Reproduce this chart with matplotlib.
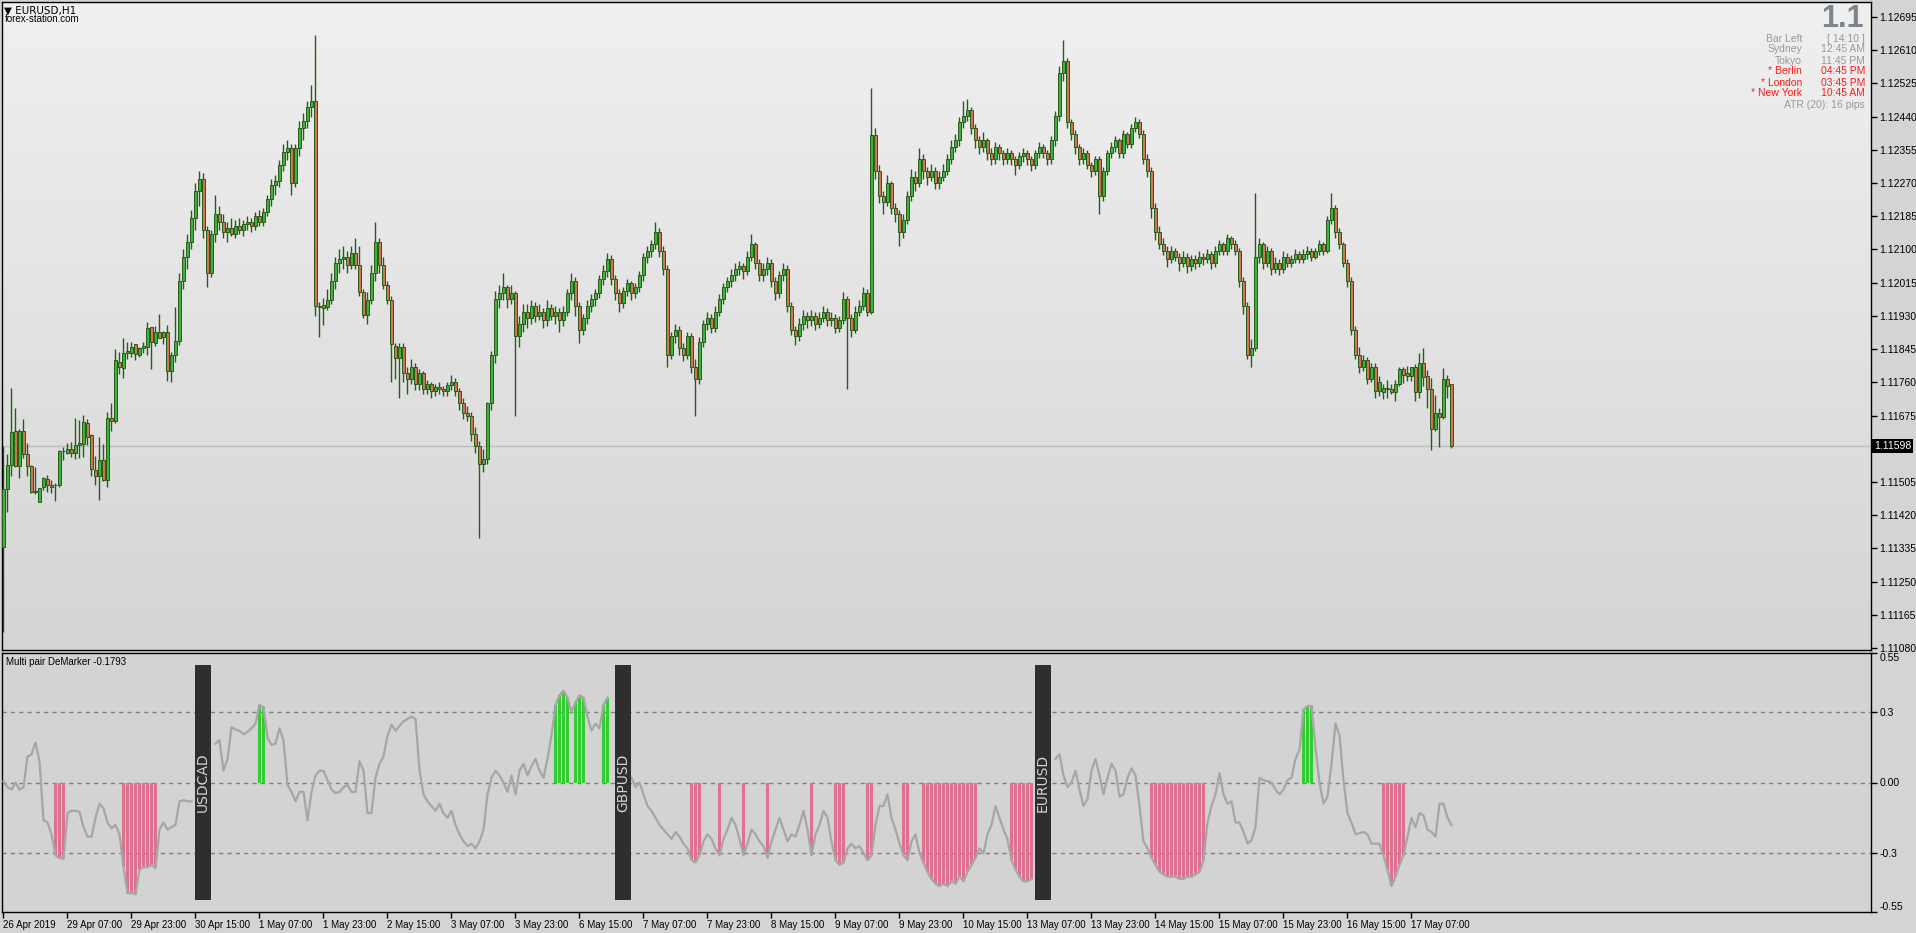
"""EURUSD H1 candles with the Multi pair DeMarker window below."""

from pathlib import Path

import matplotlib
matplotlib.use("Agg")
import matplotlib.pyplot as plt
import matplotlib.transforms as mtransforms
from matplotlib.colors import LinearSegmentedColormap
import numpy as np

W, H = 1916, 933
BASE = 1.11  # candle values are pips above this price
nan = float("nan")

open_pips = [
    33.9, 48.7, 54.8, 63.5, 54.5, 63.5, 57.6, 54.7, 48.0, 45.3,
    49.2, 51.2, 49.7, 49.6, 49.6, 58.3, 58.0, 58.9, 57.8, 60.0,
    60.3, 65.5, 62.4, 53.5, 51.9, 56.1, 51.0, 66.8, 66.0, 81.3,
    79.7, 83.4, 83.6, 85.7, 83.0, 84.7, 85.1, 90.1, 86.1, 88.8,
    87.7, 88.8, 79.0, 82.9, 86.5, 102.0, 108.0, 112.0, 118.0, 125.0,
    128.0, 115.0, 104.0, 114.0, 119.0, 117.0, 114.5, 115.5, 114.0, 116.0,
    115.0, 116.5, 117.0, 116.0, 118.5, 117.0, 119.5, 123.0, 126.5, 127.5,
    131.5, 135.0, 136.0, 127.0, 136.0, 141.0, 143.0, 146.5, 148.0, 95.5,
    95.8, 95.2, 97.1, 102.0, 106.6, 107.5, 108.2, 106.0, 109.0, 106.0,
    99.0, 93.2, 97.1, 104.0, 112.0, 106.0, 101.0, 97.0, 85.4, 82.2,
    85.1, 78.4, 76.9, 80.0, 75.6, 78.4, 74.4, 75.6, 73.7, 74.7,
    74.4, 73.7, 75.3, 76.2, 73.7, 70.6, 68.1, 67.5, 62.8, 59.7,
    55.0, 56.5, 70.6, 83.1, 97.2, 98.8, 100.3, 97.2, 98.8, 87.8,
    91.0, 94.1, 92.5, 95.6, 93.1, 94.1, 91.9, 95.0, 93.1, 94.1,
    91.9, 94.1, 98.8, 101.9, 95.6, 89.4, 92.5, 95.6, 97.2, 98.8,
    102.5, 104.4, 107.5, 102.5, 98.8, 96.3, 99.4, 101.3, 98.8, 100.3,
    103.4, 108.2, 109.7, 111.3, 114.4, 109.7, 105.0, 83.1, 87.8, 89.4,
    84.7, 83.1, 87.8, 80.0, 76.9, 86.3, 91.0, 92.5, 90.0, 94.1,
    97.2, 100.3, 101.9, 103.4, 105.0, 105.7, 104.4, 108.2, 111.3, 106.6,
    103.4, 105.0, 106.6, 101.9, 98.8, 103.4, 105.0, 95.6, 89.4, 87.8,
    91.0, 93.1, 91.9, 93.1, 91.0, 92.5, 94.1, 91.9, 92.5, 90.0,
    91.9, 97.2, 92.5, 89.4, 94.1, 95.6, 98.8, 94.1, 139.2, 130.1,
    123.8, 122.2, 126.9, 120.7, 119.1, 114.4, 117.6, 123.8, 128.5, 126.9,
    133.2, 130.1, 128.5, 130.1, 126.9, 128.5, 130.1, 133.2, 136.3, 137.9,
    142.6, 144.2, 145.7, 141.0, 137.9, 136.3, 137.9, 134.7, 133.2, 136.3,
    134.7, 133.2, 134.7, 133.2, 131.6, 133.8, 134.7, 133.2, 131.6, 134.7,
    136.3, 134.7, 133.2, 137.9, 144.2, 155.1, 158.2, 142.6, 139.5, 136.3,
    133.2, 134.7, 131.6, 130.1, 133.2, 123.8, 130.1, 134.7, 136.3, 137.9,
    134.7, 139.5, 137.0, 141.0, 142.6, 139.5, 133.2, 130.1, 120.7, 114.4,
    111.3, 109.7, 107.5, 109.7, 108.2, 106.6, 108.2, 105.7, 107.5, 106.6,
    108.2, 107.5, 108.8, 106.6, 109.7, 111.3, 109.7, 112.9, 111.3, 109.7,
    101.9, 95.6, 83.1, 84.7, 108.2, 111.3, 106.6, 109.7, 105.0, 106.6,
    105.0, 108.2, 106.6, 107.5, 108.8, 107.5, 108.8, 109.7, 108.2, 109.7,
    111.3, 109.7, 117.6, 120.7, 114.4, 111.3, 106.6, 101.9, 89.4, 83.1,
    80.0, 81.6, 76.9, 80.0, 73.7, 73.6, 74.4, 74.2, 73.6, 75.5,
    79.3, 78.4, 77.7, 79.9, 73.6, 80.9, 77.5, 74.2, 64.0, 68.1,
    67.2, 76.8, 75.5,
]

high_pips = [
    59.7, 57.7, 74.5, 69.4, 64.0, 66.6, 60.4, 54.8, 54.3, 49.0,
    51.7, 52.3, 51.0, 50.2, 58.8, 59.5, 60.4, 60.7, 66.9, 66.3,
    67.6, 66.6, 62.7, 57.2, 62.0, 60.2, 68.3, 70.6, 84.5, 83.8,
    87.4, 86.3, 86.2, 85.7, 85.1, 86.3, 91.4, 90.1, 90.4, 93.5,
    89.2, 90.7, 83.7, 95.3, 104.0, 110.0, 114.0, 120.0, 127.0, 130.0,
    129.5, 116.0, 115.0, 124.0, 121.0, 119.0, 117.0, 118.0, 117.5, 118.0,
    117.5, 118.5, 118.0, 119.5, 120.0, 120.5, 124.0, 128.0, 129.0, 133.0,
    137.0, 138.0, 137.0, 137.0, 143.0, 145.0, 148.0, 152.0, 165.0, 96.5,
    97.5, 100.0, 104.0, 108.0, 110.0, 111.0, 109.5, 111.0, 113.0, 111.0,
    100.0, 99.0, 106.0, 117.0, 113.0, 108.0, 102.0, 98.0, 86.0, 86.0,
    86.0, 80.0, 82.0, 81.0, 79.5, 79.0, 76.5, 76.0, 75.5, 76.0,
    75.0, 76.0, 78.0, 77.0, 74.5, 72.0, 70.0, 68.5, 64.5, 61.0,
    59.0, 71.0, 84.0, 99.5, 101.0, 104.0, 101.0, 101.0, 99.5, 93.0,
    96.0, 96.0, 97.0, 96.5, 96.0, 95.0, 97.0, 96.0, 95.5, 95.0,
    95.5, 100.0, 104.0, 103.0, 96.5, 93.5, 97.0, 98.5, 100.0, 103.5,
    106.0, 109.0, 108.5, 103.5, 100.0, 100.5, 102.5, 102.0, 101.5, 104.5,
    109.0, 111.0, 112.5, 117.0, 115.5, 111.0, 106.0, 89.0, 91.0, 90.5,
    86.0, 89.0, 88.5, 82.0, 87.5, 92.0, 94.0, 93.5, 95.5, 98.5,
    101.5, 103.0, 105.0, 106.5, 107.0, 106.5, 109.5, 114.0, 112.0, 107.5,
    106.5, 108.0, 107.5, 103.0, 104.5, 106.5, 106.0, 96.5, 90.5, 92.5,
    94.5, 94.0, 94.5, 94.0, 94.0, 95.5, 95.0, 94.0, 93.5, 93.0,
    99.0, 98.0, 93.5, 95.5, 97.0, 100.5, 100.0, 151.4, 141.0, 131.5,
    125.0, 129.0, 127.5, 122.0, 120.0, 119.0, 125.0, 130.5, 130.0, 136.0,
    134.5, 131.0, 132.0, 131.0, 130.0, 132.0, 134.5, 138.0, 139.5, 144.0,
    148.0, 148.5, 146.5, 142.0, 139.0, 140.0, 138.5, 136.0, 137.5, 137.0,
    135.5, 136.0, 135.5, 134.0, 135.0, 136.0, 135.5, 134.0, 135.5, 137.5,
    137.0, 135.5, 139.0, 145.5, 157.0, 163.6, 159.0, 143.5, 140.5, 137.0,
    136.0, 135.5, 132.5, 134.0, 134.0, 131.0, 135.5, 137.5, 139.0, 138.5,
    140.5, 140.0, 142.0, 144.0, 143.5, 140.5, 134.5, 131.0, 122.0, 116.0,
    113.0, 111.0, 111.0, 110.5, 109.0, 109.5, 109.0, 108.5, 108.5, 109.5,
    109.0, 110.0, 109.5, 111.0, 112.5, 112.0, 114.0, 113.5, 112.5, 110.5,
    103.0, 96.5, 87.0, 124.4, 113.0, 112.0, 111.0, 110.5, 108.0, 107.5,
    109.5, 109.0, 108.5, 110.0, 109.5, 110.0, 111.0, 110.5, 110.5, 112.5,
    112.0, 118.5, 124.4, 121.5, 115.5, 112.0, 107.5, 103.0, 90.5, 85.0,
    83.0, 82.5, 81.0, 81.0, 77.5, 75.6, 76.6, 75.5, 76.6, 79.8,
    79.9, 80.2, 79.9, 80.7, 83.5, 84.8, 79.2, 77.1, 72.8, 69.4,
    79.7, 77.9, 75.5,
]

low_pips = [
    12.0, 42.9, 52.1, 54.2, 51.6, 56.7, 51.9, 47.8, 47.3, 45.3,
    48.5, 48.0, 47.8, 45.5, 49.3, 56.1, 57.7, 56.8, 56.5, 56.6,
    57.0, 59.9, 51.9, 49.7, 46.0, 50.8, 49.3, 63.6, 65.7, 78.1,
    77.2, 82.0, 82.6, 81.7, 82.4, 83.6, 83.0, 79.4, 85.4, 87.4,
    85.8, 76.4, 76.2, 81.2, 85.5, 100.0, 105.0, 110.0, 115.0, 121.0,
    113.0, 100.5, 103.0, 112.0, 115.0, 113.0, 112.0, 113.5, 113.0, 114.0,
    113.5, 115.0, 114.5, 115.0, 116.0, 116.0, 118.5, 121.0, 124.0, 126.0,
    130.0, 133.0, 124.0, 126.0, 134.0, 138.0, 141.0, 144.0, 93.0, 87.5,
    90.7, 94.5, 96.0, 100.0, 104.0, 105.0, 104.0, 105.0, 105.0, 98.0,
    92.5, 91.0, 96.0, 102.0, 104.0, 100.0, 96.0, 76.2, 76.8, 72.1,
    76.0, 73.0, 75.5, 74.0, 74.0, 73.0, 73.0, 72.0, 72.5, 73.0,
    72.5, 72.5, 74.0, 72.5, 69.0, 66.5, 66.0, 61.0, 58.0, 36.2,
    53.0, 55.0, 69.0, 81.0, 95.0, 97.0, 95.0, 96.0, 67.5, 85.0,
    89.0, 90.0, 91.0, 91.5, 92.0, 90.0, 90.5, 92.0, 91.0, 89.0,
    90.5, 93.0, 97.0, 93.0, 86.0, 88.0, 91.0, 94.0, 95.5, 97.5,
    101.0, 103.0, 101.0, 97.0, 94.0, 95.0, 98.0, 97.0, 97.5, 99.0,
    102.0, 106.5, 108.0, 110.0, 108.0, 103.5, 80.0, 82.0, 86.0, 83.0,
    81.5, 82.0, 78.5, 67.5, 75.5, 85.0, 89.5, 88.5, 89.0, 93.0,
    96.0, 99.0, 100.5, 102.0, 103.5, 102.5, 103.5, 107.0, 105.0, 102.0,
    102.0, 103.5, 100.5, 97.0, 97.5, 102.0, 94.0, 88.0, 85.5, 86.5,
    89.5, 90.0, 90.5, 89.5, 90.0, 91.5, 90.5, 90.5, 88.5, 89.0,
    91.0, 74.4, 87.5, 88.5, 93.0, 94.5, 93.0, 93.5, 128.0, 122.0,
    119.0, 121.0, 119.0, 117.0, 111.0, 113.0, 116.5, 122.5, 125.0, 126.0,
    128.0, 126.5, 127.5, 125.5, 125.5, 127.5, 129.0, 132.0, 135.0, 136.5,
    141.0, 143.0, 139.5, 136.0, 134.5, 135.0, 133.0, 131.5, 132.0, 133.0,
    131.5, 132.0, 131.5, 129.0, 130.5, 132.5, 131.5, 130.0, 130.5, 133.5,
    133.5, 131.5, 132.0, 136.5, 143.0, 153.0, 141.0, 138.0, 134.5, 131.5,
    132.0, 130.5, 128.5, 129.0, 119.0, 122.5, 129.0, 133.5, 135.0, 133.5,
    133.5, 136.0, 136.0, 140.0, 138.5, 132.0, 128.5, 118.0, 112.5, 110.0,
    108.5, 105.5, 106.5, 107.0, 104.5, 105.5, 104.0, 104.5, 105.0, 105.5,
    106.0, 106.5, 105.0, 105.5, 108.5, 108.5, 108.5, 110.0, 108.5, 100.5,
    93.5, 82.0, 80.0, 84.0, 106.5, 105.0, 105.5, 103.5, 104.0, 103.5,
    104.0, 105.5, 105.5, 106.5, 106.5, 106.5, 107.5, 107.0, 107.5, 108.5,
    108.5, 109.0, 116.5, 113.0, 110.0, 105.5, 100.5, 88.0, 82.0, 78.5,
    79.0, 75.5, 76.0, 72.0, 72.5, 71.8, 72.0, 73.0, 71.1, 75.1,
    75.9, 76.4, 76.4, 71.1, 72.1, 75.1, 69.3, 58.8, 63.6, 59.4,
    66.7, 72.1, 59.3,
]

close_pips = [
    48.7, 54.8, 63.2, 54.7, 63.5, 57.6, 54.7, 47.9, 48.0, 48.9,
    51.5, 49.8, 49.3, 49.7, 58.4, 58.3, 58.9, 58.0, 60.0, 60.4,
    65.8, 62.1, 53.7, 51.9, 56.1, 51.0, 66.8, 66.2, 81.6, 80.0,
    83.4, 84.0, 85.0, 83.2, 84.7, 85.3, 89.8, 86.4, 88.8, 87.4,
    89.0, 79.0, 82.9, 86.5, 102.0, 108.0, 112.0, 118.0, 125.0, 128.0,
    115.0, 104.0, 114.0, 119.0, 117.0, 114.5, 115.5, 114.0, 116.0, 115.0,
    116.5, 117.0, 116.0, 118.5, 117.0, 119.5, 123.0, 126.5, 127.5, 131.5,
    135.0, 136.0, 127.0, 136.0, 141.0, 143.0, 146.5, 148.0, 95.5, 95.3,
    95.0, 97.1, 102.0, 106.6, 107.5, 108.2, 106.0, 109.0, 106.0, 99.0,
    93.2, 97.1, 104.0, 112.0, 106.0, 101.0, 97.0, 85.7, 82.2, 85.1,
    78.4, 76.9, 80.0, 75.6, 78.4, 74.4, 75.6, 73.7, 74.7, 74.4,
    73.7, 75.3, 76.2, 73.7, 70.6, 68.1, 67.5, 62.8, 59.7, 55.0,
    56.5, 70.6, 83.1, 97.2, 98.8, 100.3, 97.2, 98.8, 87.8, 91.0,
    94.1, 92.5, 95.6, 93.1, 94.1, 91.9, 95.0, 93.1, 94.1, 91.9,
    94.1, 98.8, 101.9, 95.6, 89.4, 92.5, 95.6, 97.2, 98.8, 102.5,
    104.4, 107.5, 102.5, 98.8, 96.3, 99.4, 101.3, 98.8, 100.3, 103.4,
    108.2, 109.7, 111.3, 114.4, 109.7, 105.0, 83.1, 87.8, 89.4, 84.7,
    83.1, 87.8, 80.0, 76.9, 86.3, 91.0, 92.5, 90.0, 94.1, 97.2,
    100.3, 101.9, 103.4, 105.0, 105.7, 104.4, 108.2, 111.3, 106.6, 103.4,
    105.0, 106.6, 101.9, 98.8, 103.4, 105.0, 95.6, 89.4, 87.8, 91.0,
    93.1, 91.9, 93.1, 91.0, 92.5, 94.1, 91.9, 92.5, 90.0, 91.9,
    97.2, 92.5, 89.4, 94.1, 95.6, 98.8, 94.1, 139.2, 130.1, 123.8,
    122.2, 126.9, 120.7, 119.1, 114.4, 117.6, 123.8, 128.5, 126.9, 133.2,
    130.1, 128.5, 130.1, 126.9, 128.5, 130.1, 133.2, 136.3, 137.9, 142.6,
    144.2, 145.7, 141.0, 137.9, 136.3, 137.9, 134.7, 133.2, 136.3, 134.7,
    133.2, 134.7, 133.2, 131.6, 133.8, 134.7, 133.2, 131.6, 134.7, 136.3,
    134.7, 133.2, 137.9, 144.2, 155.1, 158.2, 142.6, 139.5, 136.3, 133.2,
    134.7, 131.6, 130.1, 133.2, 123.8, 130.1, 134.7, 136.3, 137.9, 134.7,
    139.5, 137.0, 141.0, 142.6, 139.5, 133.2, 130.1, 120.7, 114.4, 111.3,
    109.7, 107.5, 109.7, 108.2, 106.6, 108.2, 105.7, 107.5, 106.6, 108.2,
    107.5, 108.8, 106.6, 109.7, 111.3, 109.7, 112.9, 111.3, 109.7, 101.9,
    95.6, 83.1, 84.7, 108.2, 111.3, 106.6, 109.7, 105.0, 106.6, 105.0,
    108.2, 106.6, 107.5, 108.8, 107.5, 108.8, 109.7, 108.2, 109.7, 111.3,
    109.7, 117.6, 120.7, 114.4, 111.3, 106.6, 101.9, 89.4, 83.1, 80.0,
    81.6, 76.9, 80.0, 73.7, 76.2, 74.5, 74.3, 73.6, 75.5, 79.4,
    78.0, 77.7, 79.9, 73.6, 80.9, 77.3, 74.3, 64.0, 68.1, 67.2,
    76.8, 75.1, 59.8,
]

# Multi pair DeMarker line, nan where the pair labels break it
demarker = [
    0.005, -0.02, -0.03, 0.0, -0.03, -0.02, 0.11, 0.12, 0.17, 0.09,
    -0.16, -0.17, -0.22, -0.31, -0.32, -0.325, -0.13, -0.12, -0.12, -0.125,
    -0.19, -0.23, -0.23, -0.15, -0.09, -0.11, -0.17, -0.195, -0.18, -0.22,
    -0.36, -0.47, -0.47, -0.475, -0.37, -0.36, -0.36, -0.35, -0.365, -0.2,
    -0.17, -0.2, -0.19, -0.18, -0.08, -0.075, -0.08, -0.08, nan, nan,
    nan, nan, nan, 0.165, 0.18, 0.05, 0.1, 0.235, 0.225, 0.22,
    0.205, 0.215, 0.23, 0.25, 0.33, 0.32, 0.19, 0.16, 0.165, 0.23,
    0.18, -0.01, -0.04, -0.08, -0.04, -0.04, -0.16, -0.04, 0.03, 0.05,
    0.05, 0.01, -0.03, -0.045, -0.04, -0.02, -0.01, -0.04, -0.04, 0.09,
    0.05, -0.13, -0.13, 0.02, 0.08, 0.11, 0.2, 0.245, 0.22, 0.24,
    0.26, 0.27, 0.28, 0.27, 0.05, -0.05, -0.08, -0.1, -0.12, -0.09,
    -0.13, -0.15, -0.12, -0.18, -0.22, -0.25, -0.27, -0.26, -0.28, -0.25,
    -0.2, -0.05, 0.02, 0.05, 0.03, 0.0, -0.04, 0.03, -0.05, 0.05,
    0.08, 0.03, 0.07, 0.1, 0.05, 0.02, 0.1, 0.2, 0.33, 0.37,
    0.39, 0.36, 0.3, 0.34, 0.37, 0.36, 0.28, 0.22, 0.25, 0.23,
    0.33, 0.36, nan, nan, nan, nan, nan, 0.02, -0.02, 0.0,
    -0.05, -0.1, -0.12, -0.15, -0.18, -0.2, -0.22, -0.24, -0.21, -0.23,
    -0.26, -0.28, -0.33, -0.34, -0.31, -0.25, -0.22, -0.24, -0.28, -0.31,
    -0.24, -0.2, -0.15, -0.18, -0.24, -0.31, -0.26, -0.2, -0.22, -0.25,
    -0.27, -0.32, -0.25, -0.2, -0.15, -0.2, -0.25, -0.22, -0.23, -0.18,
    -0.12, -0.2, -0.31, -0.22, -0.18, -0.12, -0.15, -0.25, -0.33, -0.35,
    -0.34, -0.28, -0.26, -0.28, -0.27, -0.3, -0.33, -0.31, -0.18, -0.1,
    -0.1, -0.05, -0.15, -0.2, -0.26, -0.31, -0.33, -0.25, -0.22, -0.3,
    -0.34, -0.38, -0.41, -0.43, -0.44, -0.43, -0.44, -0.42, -0.43, -0.4,
    -0.42, -0.38, -0.35, -0.32, -0.28, -0.3, -0.22, -0.18, -0.1, -0.15,
    -0.2, -0.24, -0.33, -0.37, -0.4, -0.42, -0.42, -0.41, nan, nan,
    nan, nan, nan, 0.1, 0.12, 0.03, -0.02, 0.0, 0.05, -0.03,
    -0.1, -0.07, 0.05, 0.1, 0.03, -0.05, 0.02, 0.08, 0.05, -0.06,
    -0.05, 0.02, 0.06, 0.03, -0.1, -0.25, -0.28, -0.32, -0.35, -0.38,
    -0.39, -0.4, -0.4, -0.4, -0.41, -0.41, -0.4, -0.4, -0.39, -0.38,
    -0.33, -0.17, -0.1, -0.05, 0.04, -0.05, -0.09, -0.08, -0.17, -0.17,
    -0.21, -0.26, -0.245, -0.19, 0.02, 0.01, 0.005, 0.0, -0.03, -0.05,
    -0.03, 0.01, 0.02, 0.1, 0.14, 0.31, 0.325, 0.325, 0.15, 0.0,
    -0.09, -0.06, 0.08, 0.25, 0.2, 0.01, -0.13, -0.17, -0.22, -0.215,
    -0.21, -0.22, -0.26, -0.26, -0.26, -0.31, -0.37, -0.44, -0.4, -0.35,
    -0.31, -0.23, -0.15, -0.19, -0.13, -0.14, -0.2, -0.21, -0.23, -0.09,
    -0.09, -0.15, -0.18,
]

pair_labels = ["USDCAD", "GBPUSD", "EURUSD"]
pair_label_bars = [49.9, 154.9, 259.9]

time_labels = [
    "26 Apr 2019", "29 Apr 07:00", "29 Apr 23:00", "30 Apr 15:00",
    "1 May 07:00", "1 May 23:00", "2 May 15:00", "3 May 07:00",
    "3 May 23:00", "6 May 15:00", "7 May 07:00", "7 May 23:00",
    "8 May 15:00", "9 May 07:00", "9 May 23:00", "10 May 15:00",
    "13 May 07:00", "13 May 23:00", "14 May 15:00", "15 May 07:00",
    "15 May 23:00", "16 May 15:00", "17 May 07:00",
]
bars_per_time_label = 16

price_ticks = [
    1.12695, 1.12610, 1.12525, 1.12440, 1.12355, 1.12270, 1.12185,
    1.12100, 1.12015, 1.11930, 1.11845, 1.11760, 1.11675, 1.11505,
    1.11420, 1.11335, 1.11250, 1.11165, 1.11080,
]
last_price = 1.11598

level_lines = [0.3, 0.0, -0.3]
indicator_ticks = [0.55, 0.3, 0.0, -0.3, -0.55]
indicator_tick_labels = ["0.55", "0.3", "0.00", "-0.3", "-0.55"]

info_names = ["Bar Left", "Sydney", "Tokyo", "* Berlin", "* London", "* New York"]
info_values = ["[ 14:10 ]", "12:45 AM", "11:45 PM", "04:45 PM", "03:45 PM", "10:45 AM"]
info_open = [False, False, False, True, True, True]

GREY_TXT = "#999999"
RED_TXT = "#ff1a1a"
WICK = "#2a5a1a"
BULL = "#3cb43c"
BEAR = "#cf7550"
FONT = ["Liberation Sans", "DejaVu Sans"]


def px(x, y):
    return x / W, 1 - y / H


def main() -> None:
    plt.rcParams["font.family"] = FONT
    fig = plt.figure(figsize=(W / 100, H / 100), dpi=100, facecolor="#d4d4d4")

    left, right = 2, 1871
    ax = fig.add_axes([left / W, 1 - 650 / H, (right - left) / W, 648 / H])
    ax2 = fig.add_axes([left / W, 1 - 912 / H, (right - left) / W, 259 / H])

    n = len(close_pips)
    x = np.arange(n)
    o = BASE + np.array(open_pips) / 1e4
    hi = BASE + np.array(high_pips) / 1e4
    lo = BASE + np.array(low_pips) / 1e4
    c = BASE + np.array(close_pips) / 1e4
    hi = np.maximum(hi, np.maximum(o, c))
    lo = np.minimum(lo, np.minimum(o, c))

    # main window background gradient
    cmap = LinearSegmentedColormap.from_list("bg", ["#f0f0f0", "#d5d5d5"])
    ax.imshow(np.linspace(0, 1, 256).reshape(-1, 1), aspect="auto", cmap=cmap,
              extent=[0, 1, 0, 1], transform=ax.transAxes, zorder=0)

    ax.axhline(last_price, color="#bdbdbd", lw=1, zorder=1)
    ax.vlines(x, lo, hi, color=WICK, lw=1, zorder=2)
    up = c >= o
    bottom = np.minimum(o, c)
    height = np.maximum(np.abs(c - o), 0.000012)
    ax.bar(x[up], height[up], bottom=bottom[up], width=0.6, color=BULL,
           edgecolor=WICK, linewidth=0.7, zorder=3)
    ax.bar(x[~up], height[~up], bottom=bottom[~up], width=0.6, color=BEAR,
           edgecolor=WICK, linewidth=0.7, zorder=3)

    xlim = ((left - 3.5) / 4, (right - 3.5) / 4)
    ax.set_xlim(*xlim)
    ax.set_ylim(1.110749, 1.127334)
    ax.set_xticks([])
    ax.yaxis.tick_right()
    ax.set_yticks(price_ticks)
    ax.set_yticklabels([f"{p:.5f}" for p in price_ticks])
    ax.tick_params(axis="y", direction="out", length=4, width=1, pad=2,
                   labelsize=7.5, colors="black")

    trans = mtransforms.blended_transform_factory(ax.transAxes, ax.transData)
    shift = mtransforms.ScaledTranslation(3 / 100, 0, fig.dpi_scale_trans)
    ax.text(1.0, last_price, f"{last_price:.5f}", transform=trans + shift,
            ha="left", va="center", fontsize=7.5, color="white",
            bbox=dict(boxstyle="square,pad=0.2", fc="black", ec="none"), zorder=5)

    # indicator window
    ax2.set_facecolor("#d3d3d3")
    dem = np.array(demarker)
    for lv in level_lines:
        ax2.axhline(lv, color="#7f7f7f", lw=1, ls=(0, (3, 3)), zorder=1)
    low_mask = dem < -0.3
    high_mask = dem > 0.3
    ax2.bar(x[low_mask], dem[low_mask], width=0.6, color="#e0708f", zorder=2)
    ax2.bar(x[high_mask], dem[high_mask], width=0.6, color="#33cc33", zorder=2)
    ax2.plot(x, dem, color="#a6a6a6", lw=1.6, zorder=3)
    for name, b in zip(pair_labels, pair_label_bars):
        ax2.bar(b, 1.0, bottom=-0.5, width=4, color="#2e2e2e", zorder=4)
        ax2.text(b, 0.0, name, rotation=90, ha="center", va="center",
                 fontsize=10, color="#d4d4d4", family=["DejaVu Sans"], zorder=5)

    ax2.set_xlim(*xlim)
    ax2.set_ylim(-0.55, 0.55)
    ax2.yaxis.tick_right()
    ax2.set_yticks(indicator_ticks)
    ax2.set_yticklabels(indicator_tick_labels)
    ax2.tick_params(axis="y", direction="out", length=4, width=1, pad=2,
                    labelsize=7.5, colors="black")
    ylabels = ax2.get_yticklabels()
    ylabels[0].set_verticalalignment("top")
    ylabels[-1].set_verticalalignment("bottom")

    tick_bars = np.arange(len(time_labels)) * bars_per_time_label
    ax2.set_xticks(tick_bars)
    ax2.set_xticklabels(time_labels)
    ax2.tick_params(axis="x", direction="out", length=4, width=1, pad=2,
                    labelsize=7, colors="black")
    for lbl in ax2.get_xticklabels():
        lbl.set_horizontalalignment("left")

    for a in (ax, ax2):
        for s in a.spines.values():
            s.set_color("black")
            s.set_linewidth(1)

    # texts
    fig.text(*px(4, 10.5), "\u25BC EURUSD,H1", fontsize=7.5, va="center",
             family=["DejaVu Sans"], zorder=10)
    fig.text(*px(5, 19), "forex-station.com", fontsize=7, va="center", zorder=10)
    fig.text(*px(6, 662), "Multi pair DeMarker -0.1793", fontsize=7, va="center")

    fig.text(*px(1864, 19), "1.1", fontsize=22, fontweight="bold",
             color="#7c848e", ha="right", va="center")
    for i, (name, val, op) in enumerate(zip(info_names, info_values, info_open)):
        y = 38.5 + 11 * i
        col = RED_TXT if op else GREY_TXT
        fig.text(*px(1802, y), name, fontsize=7.5, color=col, ha="right", va="center")
        fig.text(*px(1865, y), val, fontsize=7.5, color=col, ha="right", va="center")
    fig.text(*px(1865, 105), "ATR (20): 16 pips", fontsize=7.5, color=GREY_TXT,
             ha="right", va="center")

    output = Path("out.png")
    fig.savefig(output, dpi=100, facecolor=fig.get_facecolor())
    plt.close(fig)


if __name__ == "__main__":
    main()
